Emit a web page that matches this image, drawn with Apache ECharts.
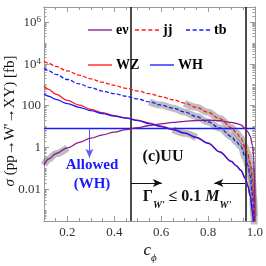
<!DOCTYPE html>
<html><head><meta charset="utf-8">
<script src="https://cdn.jsdelivr.net/npm/echarts@6/dist/echarts.min.js"></script>
<style>html,body{margin:0;padding:0;background:#fff}#c{width:266px;height:266px}</style>
</head><body><div id="c"></div><script>
// c_phi grid shared by all curves
const cPhi = [0.1,0.12,0.15,0.2,0.25,0.3,0.35,0.4,0.45,0.5,0.55,0.6,0.65,0.7,0.75,0.8,0.85,0.9,0.92,0.94,0.96,0.97,0.98,0.99,0.995,0.998,0.9995];
// cross sections sigma [fb]
const sigmaENu = [0.145,0.28,0.5,0.95,1.74,2.8,4.0,5.4,7.1,8.9,11.2,13.5,15.8,17.8,19.5,20,19.1,15.8,14.1,12.0,7.9,5.6,3.5,1.26,0.32,0.032,3e-4];
const sigmaJJ  = [13200,10500,7600,4570,2880,1910,1320,933,676,500,372,269,191,132,83,48,24,8.9,5.2,2.8,1.0,0.5,0.18,0.025,0.004,5e-4,3e-5];
const sigmaTB  = [6200,4700,3160,1780,1100,724,500,372,282,209,151,107,76,50,30,16.6,8.5,3.3,1.9,1.12,0.32,0.14,0.045,0.005,6.3e-4,1e-4,1e-5];
const sigmaWZ  = [870,600,355,178,105,66,46,33,25.7,20,14.5,10.5,7.4,5.0,3.1,1.66,0.63,0.22,0.138,0.083,0.033,0.0148,0.0052,8.3e-4,2.1e-4,5e-5,1e-5];
const sigmaWH  = [363,282,200,126,83,57.5,41.7,31.6,25.1,19.1,13.8,10,7.1,4.8,2.95,1.58,0.6,0.21,0.132,0.079,0.032,0.0141,0.005,7.9e-4,2e-4,5e-5,1e-5];
// gray highlighted ranges of c_phi
const bandENu = [0.1,0.2];
const bandJJ  = [0.7,0.998];
const bandTB  = [0.55,0.998];
const bandWH  = [0.65,0.75];
// reference lines
const sigmaLimit = 8;          // horizontal blue line [fb]
const allowedArrowC = 0.294;   // c of downward arrow
const allowedArrowTip = 0.32;  // sigma at arrow tip
const cWidthLow = 0.472, cWidthHigh = 0.958; // vertical lines
const widthArrowSigma = 0.02, widthArrowLowEnd = 0.603, widthArrowHighEnd = 0.827;
// ticks
const xTickValues = [0.2,0.4,0.6,0.8,1.0];
const xMinorTicks = [0.1,0.15,0.25,0.3,0.35,0.45,0.5,0.55,0.65,0.7,0.75,0.85,0.9,0.95];
const yTickExps = [-2,0,2,4,6];
const yTickLabels = ['0.01','1','100','10^4','10^6'];

const L = Math.log10;
const Y_MIN = -3.52, Y_MAX = 6.72;
const yMinor = [];
for (let n = -4; n <= 6; n++) for (let k = 1; k <= 9; k++) {
  const v = L(k * Math.pow(10, n));
  if (v > Y_MIN && v < Y_MAX && !yTickExps.some(e => Math.abs(e - v) < 1e-9)) yMinor.push(v);
}
const pts = arr => cPhi.map((c, i) => [c, L(arr[i])]);
const band = (arr, r) => cPhi.map((c, i) => [c, L(arr[i])]).filter(p => p[0] >= r[0] - 1e-9 && p[0] <= r[1] + 1e-9);

const SERIF = '"Liberation Serif","DejaVu Serif",serif';
const frame = '#9a9a9a';
const mkX = (pos, vals, len, labels) => ({
  type: 'value', position: pos, min: 0.1, max: 1.0, gridIndex: 0,
  axisLine: {show: true, onZero: false, lineStyle: {color: frame, width: 1}},
  axisTick: {show: true, inside: true, length: len, customValues: vals, lineStyle: {color: frame}},
  axisLabel: labels ? {show: true, customValues: vals, margin: 5, formatter: v => v.toFixed(1),
    fontFamily: SERIF, fontSize: 13, color: '#333'} : {show: false},
  splitLine: {show: false}
});
const yLabelMap = {};
yTickExps.forEach((e, i) => yLabelMap[e] = yTickLabels[i]);
const mkY = (pos, vals, len, labels) => ({
  type: 'value', position: pos, min: Y_MIN, max: Y_MAX, gridIndex: 0,
  axisLine: {show: true, onZero: false, lineStyle: {color: frame, width: 1}},
  axisTick: {show: true, inside: true, length: len, customValues: vals, lineStyle: {color: frame}},
  axisLabel: labels ? {show: true, customValues: vals, margin: 3,
    formatter: v => { const s = yLabelMap[Math.round(v)]; if (s.indexOf('^') > 0) { const p = s.split('^'); return '{b|' + p[0] + '}{s|' + p[1] + '}'; } return '{n|' + s + '}'; },
    rich: {
      b: {fontFamily: SERIF, fontSize: 13, color: '#333', lineHeight: 14, padding: [5,0,0,0], verticalAlign: 'bottom'},
      s: {fontFamily: SERIF, fontSize: 9, color: '#333', lineHeight: 9, verticalAlign: 'top'},
      n: {fontFamily: SERIF, fontSize: 13, color: '#333'}
    }} : {show: false},
  splitLine: {show: false}
});

const lineSeries = (name, arr, color, dashed) => ({
  name, type: 'line', data: pts(arr), symbol: 'none', smooth: 0.35, smoothMonotone: 'x',
  lineStyle: {color, width: 1.3, type: dashed ? [4, 2] : 'solid'}, itemStyle: {color}, z: 5,
  xAxisIndex: 0, yAxisIndex: 0, silent: true
});
const bandSeries = (arr, r) => ({
  type: 'line', data: band(arr, r), symbol: 'none', smooth: 0.35, smoothMonotone: 'x',
  lineStyle: {color: 'rgba(110,110,110,0.45)', width: 7}, z: 2, xAxisIndex: 0, yAxisIndex: 0, silent: true
});

const DASH_ICON = 'path://M0,0h4v1.3h-4zM6.5,0h4v1.3h-4zM13,0h4v1.3h-4zM19.5,0h4v1.3h-4z';
const SOLID_ICON = 'path://M0,0h23.5v1.3h-23.5z';
const legendItem = (name, dashed, left, top) => ({
  data: [{name, icon: dashed ? DASH_ICON : SOLID_ICON}], left, top, itemWidth: 24, itemHeight: 1.6, itemGap: 0,
  selectedMode: false, itemStyle: {borderWidth: 0},
  textStyle: {fontFamily: SERIF, fontWeight: 'bold', fontSize: 14, color: '#000', padding: [0,0,0,-1]}
});

const chart = echarts.init(document.getElementById('c'), null, {renderer: 'canvas'});
chart.setOption({
  animation: false,
  backgroundColor: '#fff',
  grid: {left: 44, right: 9, top: 7, bottom: 45, containLabel: false},
  xAxis: [mkX('bottom', xTickValues, 5, true), mkX('bottom', xMinorTicks, 3, false),
          mkX('top', xTickValues, 5, false), mkX('top', xMinorTicks, 3, false)],
  yAxis: [mkY('left', yTickExps, 5, true), mkY('left', yMinor, 2.5, false),
          mkY('right', yTickExps, 5, false), mkY('right', yMinor, 2.5, false)],
  legend: [legendItem('e\u03BD', false, 83, 18), legendItem('jj', true, 130, 18), legendItem('tb', true, 181, 18),
           legendItem('WZ', false, 83, 53), legendItem('WH', false, 145, 53)],
  series: [
    bandSeries(sigmaENu, bandENu), bandSeries(sigmaJJ, bandJJ), bandSeries(sigmaTB, bandTB), bandSeries(sigmaWH, bandWH),
    lineSeries('e\u03BD', sigmaENu, '#8b1a8b', false),
    lineSeries('jj', sigmaJJ, '#ff1a1a', true),
    lineSeries('tb', sigmaTB, '#1a1aff', true),
    lineSeries('WZ', sigmaWZ, '#ff1a1a', false),
    lineSeries('WH', sigmaWH, '#1a1aff', false),
    {type: 'line', data: [], xAxisIndex: 0, yAxisIndex: 0, silent: true, z: 6,
     markLine: {silent: true, symbol: ['none', 'none'], label: {show: false},
       data: [
         {yAxis: L(sigmaLimit), lineStyle: {color: '#1a1aff', width: 1.3, type: 'solid'}},
         {xAxis: cWidthLow, lineStyle: {color: '#111', width: 1.5, type: 'solid'}},
         {xAxis: cWidthHigh, lineStyle: {color: '#111', width: 1.5, type: 'solid'}}
       ]}},
    {type: 'line', data: [], xAxisIndex: 0, yAxisIndex: 0, silent: true, z: 6,
     markLine: {silent: true, symbol: ['none', 'arrow'], symbolSize: [6, 9], label: {show: false},
       data: [
         [{coord: [allowedArrowC, L(sigmaLimit)], lineStyle: {color: '#5a5aff', width: 1, type: 'solid'}},
          {coord: [allowedArrowC, L(allowedArrowTip)]}],
         [{coord: [cWidthLow, L(widthArrowSigma)], lineStyle: {color: '#111', width: 1, type: 'solid'}},
          {coord: [widthArrowLowEnd, L(widthArrowSigma)]}],
         [{coord: [cWidthHigh, L(widthArrowSigma)], lineStyle: {color: '#111', width: 1, type: 'solid'}},
          {coord: [widthArrowHighEnd, L(widthArrowSigma)]}]
       ]}}
  ],
  graphic: [
    {type: 'text', x: 10, y: 121, rotation: Math.PI / 2, silent: true,
     style: {text: '{i|\u03C3} (pp\u2192W\'\u2192XY) [fb]', align: 'center', verticalAlign: 'middle',
       font: '15px ' + SERIF, fill: '#111', rich: {i: {fontStyle: 'italic', fontFamily: SERIF, fontSize: 15, fill: '#111'}}}},
    {type: 'text', x: 150, y: 251, silent: true,
     style: {text: '{c|c}{p|\u03D5}', align: 'center', verticalAlign: 'middle',
       rich: {c: {fontStyle: 'italic', fontFamily: SERIF, fontSize: 17, fill: '#111', lineHeight: 18, verticalAlign: 'top'},
              p: {fontStyle: 'italic', fontFamily: SERIF, fontSize: 11, fill: '#111', lineHeight: 11, verticalAlign: 'bottom', padding: [0,0,-4,0]}}}},
    {type: 'text', x: 92, y: 165, silent: true,
     style: {text: 'Allowed', align: 'center', verticalAlign: 'middle', font: 'bold 15px ' + SERIF, fill: '#1a1aff'}},
    {type: 'text', x: 92, y: 184, silent: true,
     style: {text: '(WH)', align: 'center', verticalAlign: 'middle', font: 'bold 15px ' + SERIF, fill: '#1a1aff'}},
    {type: 'text', x: 163, y: 157, silent: true,
     style: {text: '(c)UU', align: 'center', verticalAlign: 'middle', font: 'bold 16px ' + SERIF, fill: '#111'}},
    {type: 'text', x: 187, y: 198, silent: true,
     style: {text: '{g|\u0393}{s|W\'}{t| \u2264 0.1 }{m|M}{s|W\'}', align: 'center', verticalAlign: 'middle',
       rich: {g: {fontWeight: 'bold', fontFamily: SERIF, fontSize: 16, fill: '#111', lineHeight: 18, verticalAlign: 'top'},
              t: {fontWeight: 'bold', fontFamily: SERIF, fontSize: 16, fill: '#111', lineHeight: 18, verticalAlign: 'top'},
              m: {fontWeight: 'bold', fontStyle: 'italic', fontFamily: SERIF, fontSize: 16, fill: '#111', lineHeight: 18, verticalAlign: 'top'},
              s: {fontWeight: 'bold', fontStyle: 'italic', fontFamily: SERIF, fontSize: 10, fill: '#111', lineHeight: 10, verticalAlign: 'bottom', padding: [0,0,-3,0]}}}}
  ]
});
</script></body></html>
